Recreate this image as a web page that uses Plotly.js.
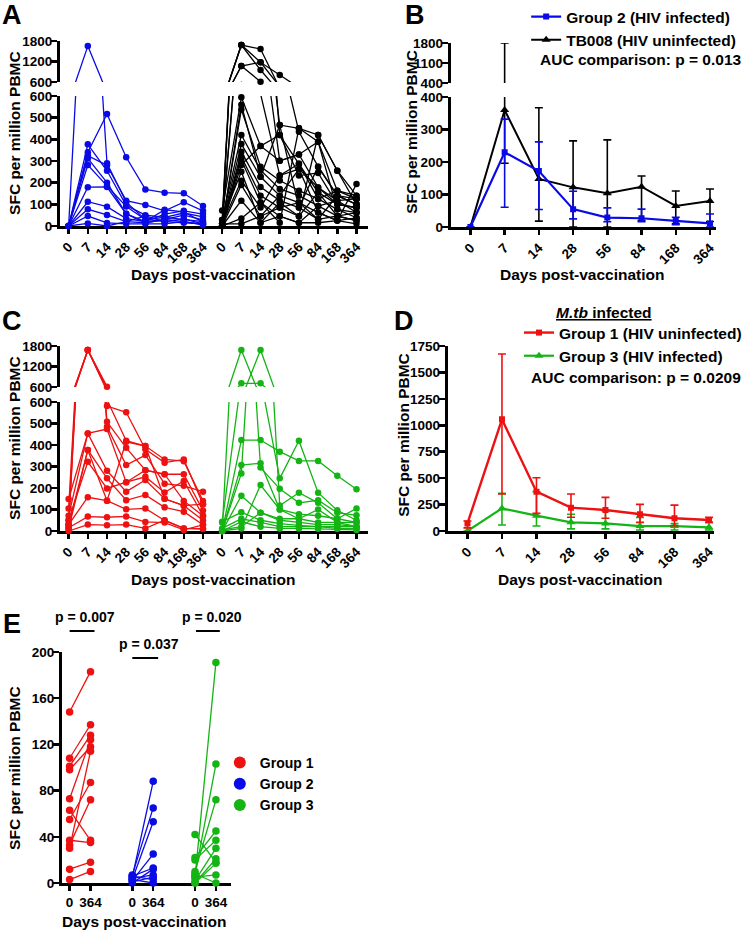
<!DOCTYPE html>
<html><head><meta charset="utf-8">
<script src="https://cdn.plot.ly/plotly-3.0.1.min.js"></script>
<style>html,body{margin:0;padding:0;background:#fff}#chart{width:747px;height:932px}</style>
</head><body><div id="chart"></div>
<script>
// ---------- DATA ----------
const days = ['0','7','14','28','56','84','168','364'];

// Panel A: individual responses (SFC per million PBMC) per subject, days 0..364
const aGroup2 = [
  [0,1650,290,110,30,20,15,10],
  [0,340,517,317,169,154,151,92],
  [0,377,255,95,50,40,30,20],
  [0,325,280,117,97,70,110,70],
  [0,312,200,56,20,55,70,55],
  [0,281,185,90,30,40,60,42],
  [0,179,180,56,15,30,50,28],
  [0,112,89,34,20,75,65,18],
  [0,77,51,20,46,20,33,10],
  [0,46,14,10,10,10,20,5],
  [0,12,0,20,15,30,20,8]
];
const aTb008 = [
  [10,1683,1566,420,287,155,100,85],
  [0,1683,1176,466,451,420,255,140],
  [28,1683,951,301,330,389,163,125],
  [12,1068,1176,805,435,274,140,100],
  [0,1068,610,233,263,178,117,62],
  [71,594,369,420,233,245,100,85],
  [0,538,274,210,163,125,77,38],
  [28,420,258,171,140,92,46,25],
  [12,378,227,140,108,62,25,194],
  [0,343,180,117,85,31,140,100],
  [10,320,140,85,45,155,46,62],
  [0,305,108,45,15,92,117,125],
  [0,282,369,301,330,178,100,85],
  [12,209,85,233,287,125,163,140],
  [0,189,45,140,263,62,25,38],
  [0,117,15,108,45,420,255,100],
  [0,35,108,15,451,389,77,62],
  [10,10,45,85,108,31,46,25],
  [0,560,227,466,85,274,140,125],
  [28,250,15,45,15,15,25,10]
];
// Panel C
const cGroup1 = [
  [15,1683,610,420,395,333,325,140],
  [50,1683,581,552,380,318,333,125],
  [105,1683,508,387,283,264,264,95],
  [30,1683,485,307,353,220,210,183],
  [149,454,474,227,252,179,233,71],
  [71,454,280,183,237,150,118,50],
  [10,377,245,143,168,110,90,29],
  [50,322,198,227,283,264,140,71],
  [30,157,141,101,105,49,12,10],
  [15,67,64,68,42,39,5,29],
  [0,30,27,30,12,50,12,10],
  [30,377,141,415,395,150,118,125]
];
const cGroup3 = [
  [0,423,423,369,326,326,257,194],
  [40,708,708,245,420,178,96,50],
  [0,1683,295,196,131,143,85,73],
  [0,268,1683,119,178,131,57,105],
  [0,307,315,100,78,71,57,40],
  [0,164,85,57,57,40,40,40],
  [43,87,50,34,26,20,20,20],
  [12,57,40,20,20,20,12,12],
  [0,43,20,12,12,10,10,5],
  [5,20,85,50,40,30,30,20],
  [0,12,214,100,57,100,40,20]
];
// Panel B: median with error range
const bGroup2Median = [0,230,172,55,29,27,19,11];
const bGroup2Upper  = [0,332,262,110,59,55,30,40];
const bGroup2Lower  = [0,61,54,25,16,16,7,0];
const bTb008Median  = [0,360,148,122,104,124,65,80];
const bTb008Upper   = [0,1800,367,265,268,157,111,117];
const bTb008Lower   = [0,196,18,0,0,20,10,17];
// Panel D
const dGroup1Median = [72,1056,372,221,199,158,120,104];
const dGroup1Upper  = [95,1674,504,350,318,252,245,129];
const dGroup1Lower  = [30,350,167,130,120,82,50,82];
const dGroup3Median = [0,214,145,82,72,47,47,35];
const dGroup3Upper  = [0,356,372,158,190,129,70,82];
const dGroup3Lower  = [0,57,47,20,20,10,10,10];
// Panel E: day 0 vs day 364
const eGroup1Day0   = [148,108,101,98,73,63,55,37,33,30,12,3];
const eGroup1Day364 = [183,137,128,118,124,37,87,35,72,114,18,10];
const eGroup2Day0   = [5,7,3,2,6,0,4,1,6,3];
const eGroup2Day364 = [88,65,53,25,13,12,7,5,3,0];
const eGroup3Day0   = [5,7,10,42,22,20,2,0,5,8,0];
const eGroup3Day364 = [191,103,72,18,45,37,30,21,7,0,17];
const eLabels = ['0','364','0','364','0','364'];

// ---------- STYLE ----------
const W = 747, H = 932;
const px = v => v / W;
const py = v => 1 - v / H;
const FAM = 'Liberation Sans, Arial, Helvetica, sans-serif';
const BLUE = '#0a0ae6', RED = '#ee1111', GREEN = '#14b414', BLACK = '#000000';
const tickFont = {family: FAM, size: 13.5, color: '#000', weight: 'bold'};

function yAx(top, bottom, range, tickvals, anchor) {
  return {domain: [py(bottom), py(top)], range: range, tickvals: tickvals,
    ticktext: tickvals.map(String), showline: true, linewidth: 2.8, linecolor: '#000',
    ticks: 'outside', ticklen: 6, tickwidth: 2.5, tickcolor: '#000', tickfont: tickFont,
    showgrid: false, zeroline: false, anchor: anchor, fixedrange: true, ticklabelstandoff: -4};
}
function xAx(left, right, range, tickvals, ticktext, anchor, angle) {
  return {domain: [px(left), px(right)], range: range, tickvals: tickvals, ticktext: ticktext,
    tickangle: angle, showline: true, linewidth: 2.8, linecolor: '#000', ticks: 'outside',
    ticklen: 5, tickwidth: 2.5, tickcolor: '#000', tickfont: tickFont, showgrid: false,
    zeroline: false, anchor: anchor, fixedrange: true, layer: 'below traces'};
}

const traces = [];
function spaghetti(subjects, offset, color, xa, yLow, yUp, cut) {
  const x = [], y = [], yl = [], yu = [];
  subjects.forEach(s => {
    s.forEach((v, i) => { x.push(i + offset); y.push(v); yl.push(v <= cut ? v : null); yu.push(v > cut ? v : null); });
    x.push(null); y.push(null); yl.push(null); yu.push(null);
  });
  const ln = {color: color, width: 1.3};
  const mk = {color: color, size: 6.5};
  traces.push({x: x, y: y, xaxis: xa, yaxis: yLow, mode: 'lines', line: ln, showlegend: false, hoverinfo: 'skip'});
  traces.push({x: x, y: y, xaxis: xa, yaxis: yUp, mode: 'lines', line: ln, showlegend: false, hoverinfo: 'skip'});
  traces.push({x: x, y: yl, xaxis: xa, yaxis: yLow, mode: 'markers', marker: mk, cliponaxis: false, showlegend: false, hoverinfo: 'skip'});
  traces.push({x: x, y: yu, xaxis: xa, yaxis: yUp, mode: 'markers', marker: mk, cliponaxis: false, showlegend: false, hoverinfo: 'skip'});
}
spaghetti(aGroup2, 0, BLUE, 'x', 'y', 'y2', 600);
spaghetti(aTb008, 8, BLACK, 'x', 'y', 'y2', 600);
spaghetti(cGroup1, 0, RED, 'x2', 'y3', 'y4', 600);
spaghetti(cGroup3, 8, GREEN, 'x2', 'y3', 'y4', 600);

const idx = days.map((d, i) => i);
function errY(med, up, lo, color) {
  return {type: 'data', symmetric: false, array: up.map((u, i) => u - med[i]),
    arrayminus: lo.map((l, i) => med[i] - l), color: color, thickness: 1.6, width: 4};
}
// Panel B
traces.push({x: idx, y: bTb008Median, xaxis: 'x3', yaxis: 'y6', mode: 'lines', line: {color: BLACK, width: 2},
  error_y: errY(bTb008Median, bTb008Upper, bTb008Lower, BLACK), showlegend: false, hoverinfo: 'skip'});
traces.push({x: idx, y: bTb008Median, xaxis: 'x3', yaxis: 'y5', mode: 'lines+markers', name: 'TB008 (HIV uninfected)',
  line: {color: BLACK, width: 2}, marker: {symbol: 'triangle-up', size: 8, color: BLACK},
  error_y: errY(bTb008Median, bTb008Upper, bTb008Lower, BLACK), legend: 'legend', legendrank: 2, hoverinfo: 'skip'});
traces.push({x: idx, y: bGroup2Median, xaxis: 'x3', yaxis: 'y5', mode: 'lines+markers', name: 'Group 2 (HIV infected)',
  line: {color: BLUE, width: 2.2}, marker: {symbol: 'square', size: 6, color: BLUE},
  error_y: errY(bGroup2Median, bGroup2Upper, bGroup2Lower, BLUE), legend: 'legend', legendrank: 1, hoverinfo: 'skip'});
// Panel D
traces.push({x: idx, y: dGroup3Median, xaxis: 'x4', yaxis: 'y7', mode: 'lines+markers', name: 'Group 3 (HIV infected)',
  line: {color: GREEN, width: 2.2}, marker: {symbol: 'triangle-up', size: 8, color: GREEN},
  error_y: errY(dGroup3Median, dGroup3Upper, dGroup3Lower, GREEN), legend: 'legend2', legendrank: 2, hoverinfo: 'skip'});
traces.push({x: idx, y: dGroup1Median, xaxis: 'x4', yaxis: 'y7', mode: 'lines+markers', name: 'Group 1 (HIV uninfected)',
  line: {color: RED, width: 2.4}, marker: {symbol: 'square', size: 6, color: RED},
  error_y: errY(dGroup1Median, dGroup1Upper, dGroup1Lower, RED), legend: 'legend2', legendrank: 1, hoverinfo: 'skip'});
// Panel E
function paired(d0, d364, x0, color, name) {
  const x = [], y = [];
  d0.forEach((v, i) => { x.push(x0, x0 + 1, null); y.push(v, d364[i], null); });
  traces.push({x: x, y: y, xaxis: 'x5', yaxis: 'y8', mode: 'lines', line: {color: color, width: 1.3}, showlegend: false, hoverinfo: 'skip'});
  traces.push({x: x, y: y, xaxis: 'x5', yaxis: 'y8', mode: 'markers', marker: {color: color, size: 7.5}, cliponaxis: false,
    name: name, legend: 'legend3', hoverinfo: 'skip'});
}
paired(eGroup1Day0, eGroup1Day364, 0, RED, 'Group 1');
paired(eGroup2Day0, eGroup2Day364, 3, BLUE, 'Group 2');
paired(eGroup3Day0, eGroup3Day364, 6, GREEN, 'Group 3');

// ---------- LAYOUT ----------
const ann = [];
function txt(t, x, y, size, opts) {
  ann.push(Object.assign({text: t, x: px(x), y: py(y), xref: 'paper', yref: 'paper', showarrow: false,
    xanchor: 'center', yanchor: 'middle', font: {family: FAM, size: size, color: '#000', weight: 'bold'}}, opts || {}));
}
txt('A', 12, 15, 27); txt('B', 417, 15, 27); txt('C', 12, 321, 27); txt('D', 406, 321, 27); txt('E', 12, 624, 27);
const yt = 'SFC per million PBMC', xt = 'Days post-vaccination';
txt(yt, 14, 133, 15.5, {textangle: -90}); txt(yt, 414, 132, 15.5, {textangle: -90});
txt(yt, 14, 438, 15.5, {textangle: -90}); txt(yt, 405, 435, 15.5, {textangle: -90});
txt(yt, 14, 768, 15.5, {textangle: -90});
txt(xt, 215, 274, 15.5); txt(xt, 586, 274, 15.5); txt(xt, 215, 579, 15.5); txt(xt, 584, 579, 15.5); txt(xt, 145, 921, 15.5);
txt('AUC comparison: p = 0.013', 541, 60, 15.5, {xanchor: 'left'});
txt('AUC comparison: p = 0.0209', 532, 377, 15.5, {xanchor: 'left'});
txt('<u><i>M.tb</i> infected</u>', 607, 313, 15.5);
txt('p = 0.007', 85, 617, 14); txt('p = 0.037', 150, 644, 14); txt('p = 0.020', 213, 617, 14);

const shapes = [[70, 95, 631], [133, 159, 658], [197, 221, 631]].map(s => ({type: 'line', xref: 'paper', yref: 'paper',
  x0: px(s[0]), x1: px(s[1]), y0: py(s[2]), y1: py(s[2]), line: {color: '#000', width: 2}}));

const legFont = size => ({family: FAM, size: size, color: '#000', weight: 'bold'});
const layout = {
  width: W, height: H, margin: {l: 0, r: 0, t: 0, b: 0}, paper_bgcolor: '#fff', plot_bgcolor: 'rgba(0,0,0,0)',
  font: {family: FAM, color: '#000'}, hovermode: false, annotations: ann, shapes: shapes,
  xaxis: xAx(60, 370, [-0.466, 15.6], days.concat(days).map((d, i) => i), days.concat(days), 'y', -45),
  yaxis: yAx(96, 226, [0, 600], [0, 100, 200, 300, 400, 500, 600], 'x'),
  yaxis2: yAx(41, 82, [600, 1800], [600, 1200, 1800], 'x'),
  xaxis2: xAx(60, 370, [-0.466, 15.6], days.concat(days).map((d, i) => i), days.concat(days), 'y3', -45),
  yaxis3: yAx(402, 531, [0, 600], [0, 100, 200, 300, 400, 500, 600], 'x2'),
  yaxis4: yAx(346, 387, [600, 1800], [600, 1200, 1800], 'x2'),
  xaxis3: xAx(453, 720, [-0.58, 7.18], idx, days, 'y5', -45),
  yaxis5: yAx(97, 227, [0, 400], [0, 100, 200, 300, 400], 'x3'),
  yaxis6: yAx(43, 83, [400, 1800], [400, 1100, 1800], 'x3'),
  xaxis4: xAx(450, 718, [-0.576, 7.15], idx, days, 'y7', -45),
  yaxis7: yAx(346, 531, [0, 1750], [0, 250, 500, 750, 1000, 1250, 1500, 1750], 'x4'),
  xaxis5: xAx(62, 232, [-0.38, 7.71], [0, 1, 3, 4, 6, 7], eLabels, 'y8', 0),
  yaxis8: yAx(652, 883, [0, 200], [0, 40, 80, 120, 160, 200], 'x5'),
  legend: {x: px(529), y: py(0), xanchor: 'left', yanchor: 'top', font: legFont(15.5), bgcolor: 'rgba(0,0,0,0)', itemwidth: 30, traceorder: 'normal'},
  legend2: {x: px(522), y: py(316), xanchor: 'left', yanchor: 'top', font: legFont(15.5), bgcolor: 'rgba(0,0,0,0)', itemwidth: 30, traceorder: 'normal'},
  legend3: {x: px(221), y: py(747), xanchor: 'left', yanchor: 'top', font: legFont(14), bgcolor: 'rgba(0,0,0,0)', itemwidth: 30, itemsizing: 'constant', traceorder: 'normal'}
};
Plotly.newPlot('chart', traces, layout, {staticPlot: true, displayModeBar: false});
</script></body></html>
